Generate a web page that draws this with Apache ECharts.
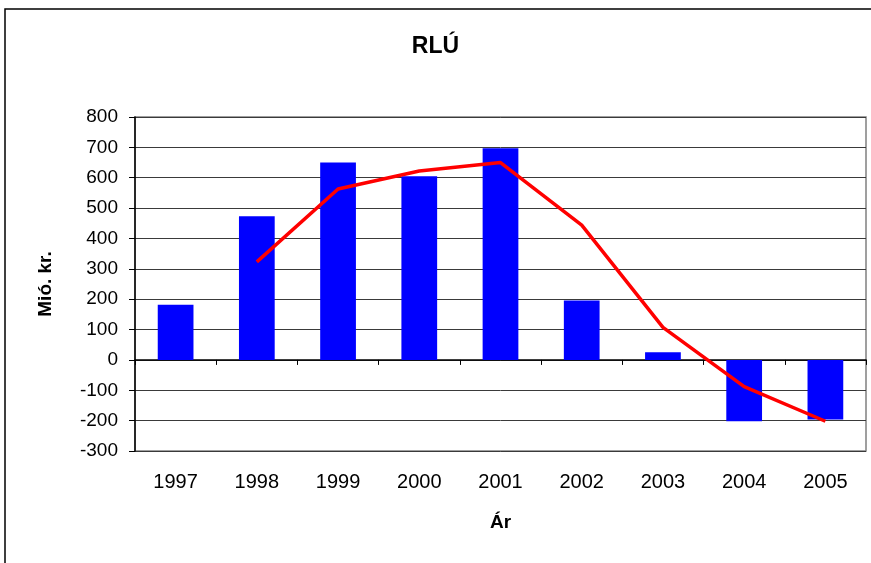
<!DOCTYPE html>
<html>
<head>
<meta charset="utf-8">
<script src="https://cdn.jsdelivr.net/npm/echarts@6/dist/echarts.min.js"></script>
<style>
  html, body { margin: 0; padding: 0; background: #fff; }
  #chart { width: 871px; height: 563px; }
</style>
</head>
<body>
<div id="chart"></div>
<script>
// data
const years = ["1997", "1998", "1999", "2000", "2001", "2002", "2003", "2004", "2005"];
const barValues = [182, 473, 650, 605, 697, 196, 25, -202, -196];
const lineValues = [null, 323, 563, 622, 650, 444, 107, -88, -202];

const FONT = "'Liberation Sans', Arial, sans-serif";

const chart = echarts.init(document.getElementById("chart"));

const option = {
  backgroundColor: "#fff",
  animation: false,
  graphic: [
    {
      type: "rect",
      shape: { x: 5, y: 9, width: 900, height: 600 },
      style: { fill: "none", stroke: "#000", lineWidth: 1.5 },
    },
  ],
  title: {
    text: "RLÚ",
    left: "center",
    top: 30,
    textStyle: { fontFamily: FONT, fontSize: 23, fontWeight: "bold", color: "#000" },
  },
  grid: {
    left: 135,
    right: 5,
    top: 117,
    bottom: 112,
    show: true,
    borderColor: "#808080",
    borderWidth: 1.5,
  },
  xAxis: [
    {
      type: "category",
      data: years,
      position: "bottom",
      name: "Ár",
      nameLocation: "middle",
      nameGap: 62,
      nameTextStyle: { fontFamily: FONT, fontSize: 19, fontWeight: "bold", color: "#000" },
      axisLine: { show: false, onZero: false },
      axisTick: { show: false },
      axisLabel: { fontFamily: FONT, fontSize: 20, color: "#000", margin: 21 },
    },
    {
      type: "category",
      data: years,
      position: "top",
      axisLine: { show: true, onZero: true, lineStyle: { color: "#000", width: 1.5 } },
      axisTick: { show: true, inside: true, length: 5, lineStyle: { color: "#000" } },
      axisLabel: { show: false },
    },
  ],
  yAxis: {
    type: "value",
    min: -300,
    max: 800,
    interval: 100,
    name: "Mió. kr.",
    nameLocation: "middle",
    nameGap: 80,
    nameTextStyle: { fontFamily: FONT, fontSize: 19, fontWeight: "bold", color: "#000" },
    axisLine: { show: true, lineStyle: { color: "#000", width: 1.5 } },
    axisTick: { show: true, length: 6, lineStyle: { color: "#000" } },
    axisLabel: { fontFamily: FONT, fontSize: 19, color: "#000", margin: 17 },
    splitLine: { lineStyle: { color: "#3a3a3a", width: 1 } },
  },
  series: [
    {
      type: "bar",
      data: barValues,
      barWidth: "44%",
      itemStyle: { color: "#0000ff" },
    },
    {
      type: "line",
      data: lineValues,
      showSymbol: false,
      symbol: "none",
      lineStyle: { color: "#ff0000", width: 3.5 },
      itemStyle: { color: "#ff0000" },
    },
  ],
};

chart.setOption(option);
</script>
</body>
</html>
